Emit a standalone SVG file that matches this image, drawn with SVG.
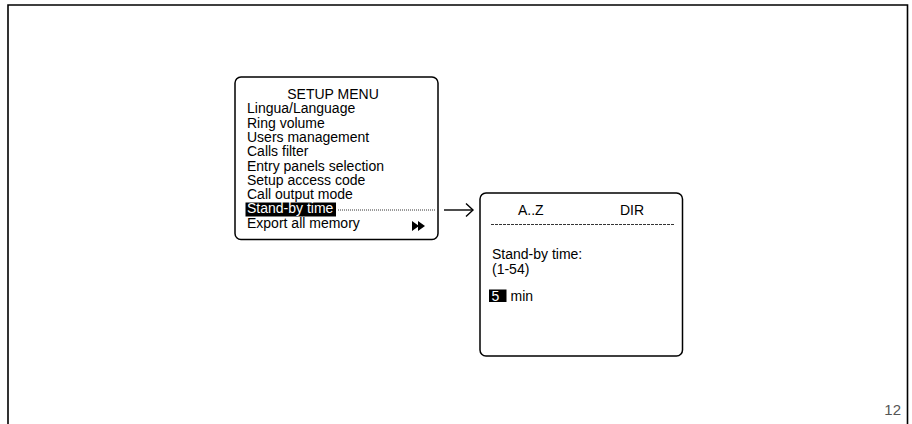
<svg xmlns="http://www.w3.org/2000/svg" width="912" height="424" viewBox="0 0 912 424">
<defs>
<style>
text{font-family:"Liberation Sans",Arial,sans-serif;font-size:14px;fill:#000}
.box{fill:#fff;stroke:#000;stroke-width:1.5}
.hl{fill:#000}
.inv{fill:#fff}
.dot{stroke:#000;stroke-width:0.8;stroke-dasharray:1 1;fill:none}
.dash{stroke:#000;stroke-width:0.8;stroke-dasharray:3 1;fill:none}
.conn{stroke:#000;stroke-width:1.4;fill:none}
</style>
</defs>
<rect width="912" height="424" fill="#fff"/>
<path d="M8,430 V5 H907.5 V430" fill="none" stroke="#000" stroke-width="1.6"/>
<g id="setup-menu">
<rect class="box" x="235" y="77" width="203" height="162.5" rx="6"/>
<text x="333" y="99" text-anchor="middle">SETUP MENU</text>
<text x="247" y="113.3">Lingua/Language</text>
<text x="247" y="127.6">Ring volume</text>
<text x="247" y="141.9">Users management</text>
<text x="247" y="156.2">Calls filter</text>
<text x="247" y="170.5">Entry panels selection</text>
<text x="247" y="184.8">Setup access code</text>
<text x="247" y="199.1">Call output mode</text>
<rect class="hl" x="245.5" y="202.5" width="90.5" height="14"/>
<text class="inv" x="247" y="213.4">Stand-by time</text>
<text x="247" y="227.7">Export all memory</text>
<path d="M412,221 L419,226 L412,231 Z M418,221 L425,226 L418,231 Z" fill="#000"/>
</g>
<g id="connectors">
<line class="dot" x1="338" y1="210" x2="436" y2="210"/>
<line class="conn" x1="444" y1="210" x2="473" y2="210"/>
<path class="conn" d="M466,203.5 L473,210 L466,216.5"/>
</g>
<g id="standby-screen">
<rect class="box" x="480" y="193" width="202.5" height="163" rx="6"/>
<text x="518" y="215">A..Z</text>
<text x="620" y="215">DIR</text>
<line class="dash" x1="491" y1="224.5" x2="674" y2="224.5"/>
<text x="492" y="258.5">Stand-by time:</text>
<text x="492" y="274.4">(1-54)</text>
<rect class="hl" x="489" y="289.5" width="17.5" height="12.5"/>
<text class="inv" x="491.5" y="300.5">5</text>
<text x="510.5" y="300.5">min</text>
</g>
<text x="901" y="415" text-anchor="end" style="font-size:15px;fill:#555">12</text>
</svg>
